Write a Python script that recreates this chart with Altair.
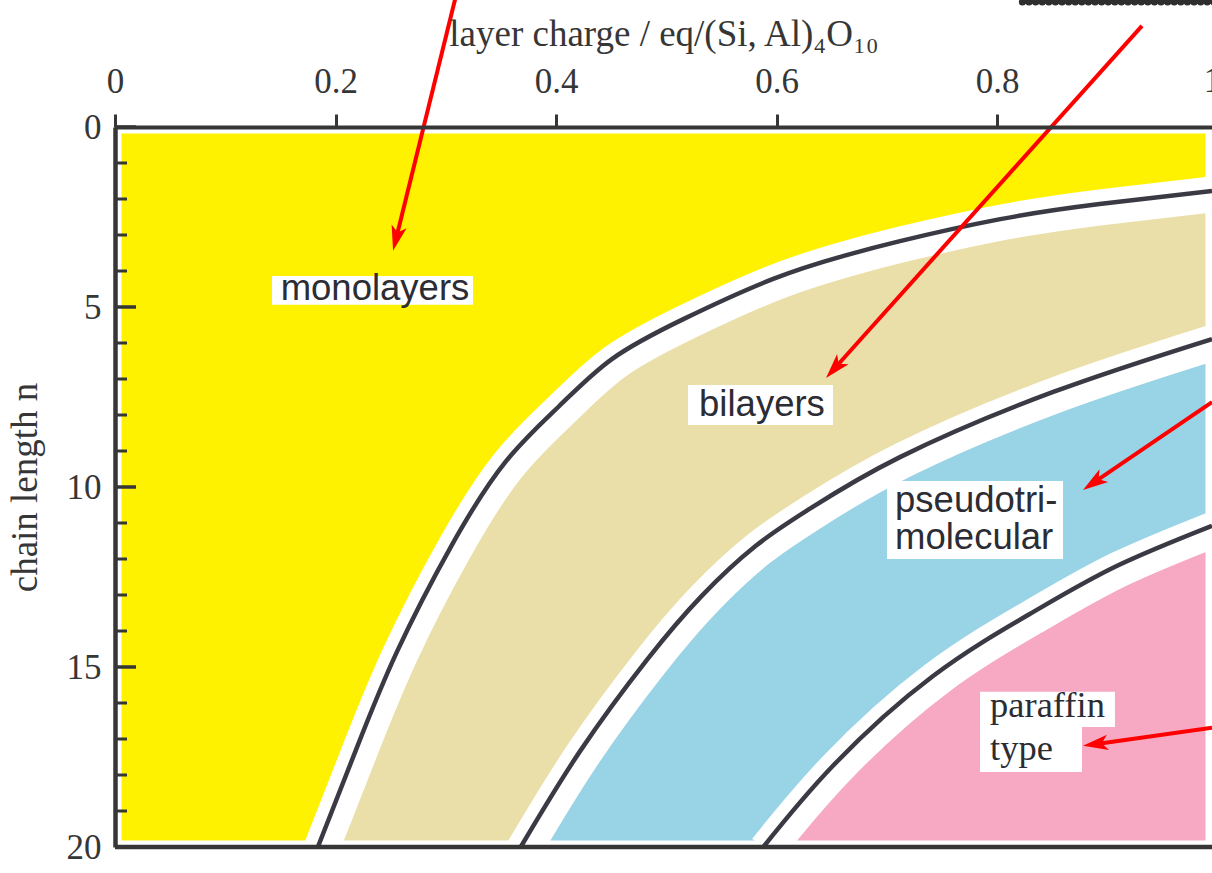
import math
import altair as alt
import pandas as pd

# Phase boundaries: layer charge (eq per (Si, Al)4O10) against alkyl chain length n
mono_bi_charge = [0.184, 0.220, 0.256, 0.305, 0.354, 0.403, 0.451, 0.516, 0.597, 0.661, 0.712, 0.803, 0.893, 0.995]
mono_bi_n = [20.0, 17.19, 14.56, 11.64, 9.31, 7.75, 6.44, 5.33, 4.22, 3.58, 3.17, 2.56, 2.14, 1.78]

bi_pseudo_charge = [0.368, 0.422, 0.483, 0.532, 0.581, 0.630, 0.712, 0.851, 0.995]
bi_pseudo_n = [20.0, 17.33, 14.78, 13.03, 11.64, 10.61, 9.17, 7.36, 5.89]

pseudo_paraffin_charge = [0.588, 0.651, 0.742, 0.833, 0.909, 0.995]
pseudo_paraffin_n = [20.0, 17.75, 15.25, 13.47, 12.19, 11.08]

# Axis ticks
charge_ticks = [0, 0.2, 0.4, 0.6, 0.8]
charge_last_tick = 1
n_ticks = [0, 5, 10, 15, 20]
n_minor_ticks = [i for i in range(0, 21) if i % 5 != 0]

# Region fills
region_colors = {
    "monolayers": "#FFF200",
    "bilayers": "#EADFA8",
    "pseudotrimolecular": "#99D3E6",
    "paraffin": "#F7A9C3",
}

# Region labels (one row per text line)
sans_center_text = ["monolayers", "bilayers"]
sans_center_charge = [0.2358, 0.5868]
sans_center_n = [4.81, 8.03]

sans_left_text = ["pseudotri-", "molecular"]
sans_left_charge = [0.7075, 0.7075]
sans_left_n = [10.69, 11.72]

serif_left_text = ["paraffin", "type"]
serif_left_charge = [0.7937, 0.7937]
serif_left_n = [16.39, 17.58]

# White plates behind the labels
plate_charge0 = [0.1424, 0.5197, 0.7002, 0.7846, 0.7846]
plate_charge1 = [0.3247, 0.6512, 0.8599, 0.9070, 0.8771]
plate_n0 = [4.14, 7.17, 9.83, 15.69, 16.67]
plate_n1 = [4.94, 8.28, 12.00, 16.67, 17.92]

# Pointer arrows (tail -> tip)
arrow_tail_charge = [0.3097, 0.9315, 0.995, 0.995]
arrow_tail_n = [-3.70, -2.81, 7.64, 16.69]
arrow_tip_charge = [0.2522, 0.6449, 0.878, 0.878]
arrow_tip_n = [3.44, 6.97, 10.08, 17.19]

# Edge of the neighbouring panel, top right
edge_charge = [0.823, 1.0]
edge_n = -3.47

X_MAX = 0.995
N_MAX = 20
W, H = 1097, 720
PX_PER_CHARGE = W / X_MAX
PX_PER_N = H / N_MAX

INK = "#363636"
SERIF = "Liberation Serif"
SANS = "Liberation Sans"
TICK = 13
LABEL_PAD = 15
TICK_FONT = 35
CURVE_INTERP = "natural"

xs = alt.Scale(domain=[0, X_MAX], nice=False, zero=False)
ys = alt.Scale(domain=[0, N_MAX], nice=False, zero=False, reverse=True)

x_axis = alt.Axis(
    orient="top",
    values=charge_ticks,
    format="~g",
    title="layer charge / eq/(Si, Al)\u2084O\u2081\u2080",
    titleFont=SERIF,
    titleFontSize=37,
    titleFontWeight="normal",
    titleColor=INK,
    titlePadding=11,
    labelFont=SERIF,
    labelFontSize=TICK_FONT,
    labelColor=INK,
    labelPadding=LABEL_PAD,
    labelFlush=False,
    tickSize=TICK,
    tickWidth=3,
    tickColor=INK,
    domainColor=INK,
    domainWidth=4,
    grid=False,
    zindex=1,
)

y_axis = alt.Axis(
    orient="left",
    values=n_ticks,
    ticks=False,
    title="chain length n",
    titleFont=SERIF,
    titleFontSize=37,
    titleFontWeight="normal",
    titleColor=INK,
    titlePadding=22,
    labelFont=SERIF,
    labelFontSize=TICK_FONT,
    labelColor=INK,
    labelPadding=14,
    labelFlush=False,
    domainColor=INK,
    domainWidth=4.5,
    grid=False,
    zindex=1,
)


def X(field):
    return alt.X(field, type="quantitative", scale=xs, axis=x_axis)


def Y(field):
    return alt.Y(field, type="quantitative", scale=ys, axis=y_axis)


curves = pd.concat(
    [
        pd.DataFrame({"charge": mono_bi_charge, "n": mono_bi_n, "curve": "mono_bi"}),
        pd.DataFrame({"charge": bi_pseudo_charge, "n": bi_pseudo_n, "curve": "bi_pseudo"}),
        pd.DataFrame({"charge": pseudo_paraffin_charge, "n": pseudo_paraffin_n, "curve": "pseudo_paraffin"}),
    ],
    ignore_index=True,
)
curves["base"] = N_MAX

frame = pd.DataFrame({"x0": [0], "x1": [X_MAX], "n0": [0], "n1": [N_MAX]})

base = alt.Chart(frame).mark_rect(color=region_colors["monolayers"]).encode(
    x=X("x0"), x2="x1:Q", y=Y("n0"), y2="n1:Q"
)

areas = []
for curve, color in [
    ("mono_bi", region_colors["bilayers"]),
    ("bi_pseudo", region_colors["pseudotrimolecular"]),
    ("pseudo_paraffin", region_colors["paraffin"]),
]:
    areas.append(
        alt.Chart(curves[curves.curve == curve])
        .mark_area(color=color, opacity=1, interpolate=CURVE_INTERP)
        .encode(x=X("charge"), y=Y("n"), y2="base:Q")
    )

# White clearance on either side of each boundary, a little wider on the lower side
bands = alt.Chart(curves).mark_line(
    color="white", strokeWidth=36, interpolate=CURVE_INTERP, strokeCap="butt",
    xOffset=3, yOffset=3,
).encode(x=X("charge"), y=Y("n"), detail="curve:N")

inset = alt.Chart(frame).mark_rect(fill=None, stroke="white", strokeWidth=13).encode(
    x=X("x0"), x2="x1:Q", y=Y("n0"), y2="n1:Q"
)

lines = alt.Chart(curves).mark_line(
    color="#3a3a44", strokeWidth=4.5, interpolate=CURVE_INTERP
).encode(x=X("charge"), y=Y("n"), detail="curve:N")

bottom = alt.Chart(frame).mark_rule(color=INK, strokeWidth=4.5).encode(
    x=X("x0"), x2="x1:Q", y=Y("n1")
)

minor = alt.Chart(pd.DataFrame({"n": n_minor_ticks})).mark_rule(
    color=INK, strokeWidth=3
).encode(y=Y("n"), x=alt.value(0), x2=alt.value(12))

major = alt.Chart(pd.DataFrame({"n": n_ticks})).mark_rule(
    color=INK, strokeWidth=3.5
).encode(y=Y("n"), x=alt.value(0), x2=alt.value(21))

last_label = alt.Chart(
    pd.DataFrame({"charge": [charge_last_tick], "n": [-(TICK + LABEL_PAD) / PX_PER_N], "t": ["1"]})
).mark_text(
    font=SERIF, fontSize=TICK_FONT, color=INK, baseline="bottom", align="center", dx=-5
).encode(x=X("charge"), y=Y("n"), text="t:N")

plates = alt.Chart(
    pd.DataFrame({"x0": plate_charge0, "x1": plate_charge1, "n0": plate_n0, "n1": plate_n1})
).mark_rect(color="white").encode(x=X("x0"), x2="x1:Q", y=Y("n0"), y2="n1:Q")


def text_layer(texts, charges, ns, font, align):
    return alt.Chart(pd.DataFrame({"t": texts, "charge": charges, "n": ns})).mark_text(
        font=font, fontSize=36.5, color="#2c2c34", align=align, baseline="alphabetic"
    ).encode(x=X("charge"), y=Y("n"), text="t:N")


labels = [
    text_layer(sans_center_text, sans_center_charge, sans_center_n, SANS, "center"),
    text_layer(sans_left_text, sans_left_charge, sans_left_n, SANS, "left"),
    text_layer(serif_left_text, serif_left_charge, serif_left_n, SERIF, "left"),
]

# Arrow shafts stop short of the tip so the head covers the end cleanly
shafts, heads = [], []
for x0, n0, x1, n1 in zip(arrow_tail_charge, arrow_tail_n, arrow_tip_charge, arrow_tip_n):
    dx = (x1 - x0) * PX_PER_CHARGE
    dy = (n1 - n0) * PX_PER_N
    length = math.hypot(dx, dy)
    back = 12 / length
    shafts.append({"x0": x0, "n0": n0, "x1": x1 - (x1 - x0) * back, "n1": n1 - (n1 - n0) * back})
    heads.append({"charge": x1, "n": n1, "angle": math.degrees(math.atan2(dx, -dy)) % 360})

arrow_red = "#FF0000"
shaft_layer = alt.Chart(pd.DataFrame(shafts)).mark_rule(color=arrow_red, strokeWidth=4).encode(
    x=X("x0"), x2="x1:Q", y=Y("n0"), y2="n1:Q"
)
head_layer = alt.Chart(pd.DataFrame(heads)).mark_point(
    shape="M0,0 L0.55,1.8 L0,1.35 L-0.55,1.8 Z",
    size=784,
    filled=True,
    color=arrow_red,
    opacity=1,
    strokeWidth=0,
).encode(x=X("charge"), y=Y("n"), angle=alt.Angle("angle:Q", scale=None))

edge_df = pd.DataFrame({"x0": [edge_charge[0]], "x1": [edge_charge[1]], "n": [edge_n]})
edge_line = alt.Chart(edge_df).mark_rule(color="#2e2e2e", strokeWidth=4).encode(
    x=X("x0"), x2="x1:Q", y=Y("n")
)
edge_beads = alt.Chart(edge_df).mark_rule(
    color="#2e2e2e", strokeWidth=7, strokeDash=[0.1, 6.5], strokeCap="round"
).encode(x=X("x0"), x2="x1:Q", y=Y("n"))

chart = (
    alt.layer(
        base,
        *areas,
        bands,
        inset,
        lines,
        bottom,
        minor,
        major,
        plates,
        *labels,
        last_label,
        shaft_layer,
        head_layer,
        edge_line,
        edge_beads,
    )
    .properties(
        width=W,
        height=H,
        padding={"left": 115, "top": 127, "right": 0, "bottom": 26},
        autosize=alt.AutoSizeParams(type="none"),
        background="white",
    )
    .configure_view(stroke=None)
)

chart.save("out.html", embed_options={"renderer": "svg", "actions": False})
